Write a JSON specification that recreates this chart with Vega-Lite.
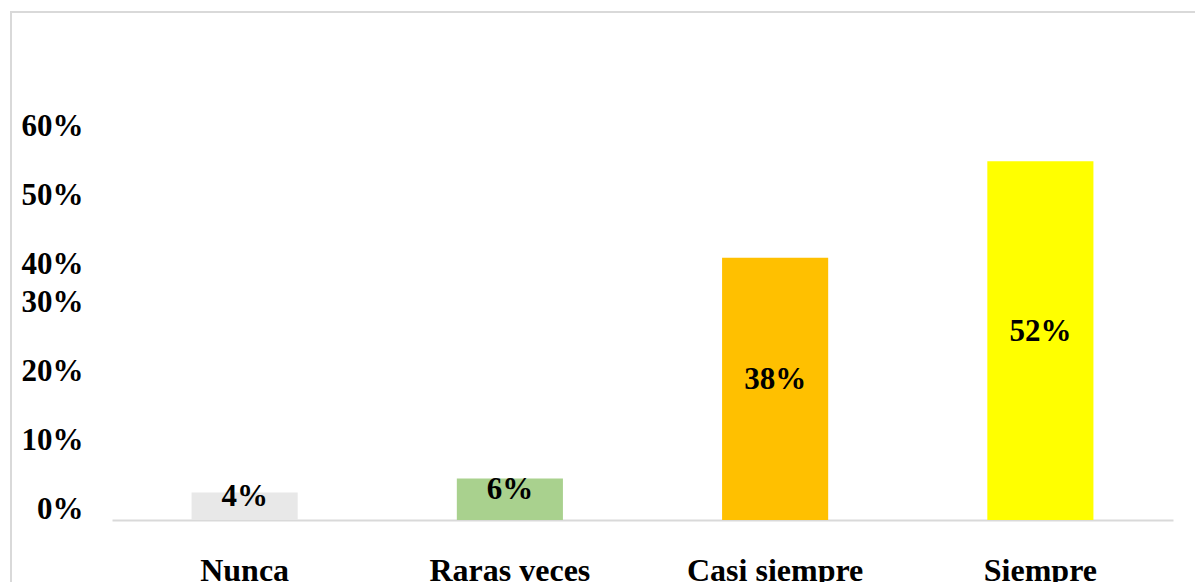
{
  "$schema": "https://vega.github.io/schema/vega-lite/v6.json",
  "width": 1186,
  "height": 572,
  "autosize": {"type": "none"},
  "padding": {"left": 11, "top": 12, "right": -2, "bottom": -2},
  "background": "white",
  "config": {
    "view": {"stroke": "#D9D9D9", "strokeWidth": 2},
    "font": "Liberation Serif"
  },
  "data": {
    "values": [
      {"respuesta": "Nunca", "pct": 0.04},
      {"respuesta": "Raras veces", "pct": 0.06},
      {"respuesta": "Casi siempre", "pct": 0.38},
      {"respuesta": "Siempre", "pct": 0.52}
    ]
  },
  "encoding": {
    "x": {
      "field": "respuesta",
      "type": "nominal",
      "sort": null,
      "scale": {"range": [101, 1162], "paddingInner": 0.6, "paddingOuter": 0.3},
      "axis": {
        "title": null,
        "orient": "bottom",
        "offset": -64,
        "ticks": false,
        "domainColor": "#D9D9D9",
        "domainWidth": 2,
        "labelAngle": 0,
        "labelFont": "Liberation Serif",
        "labelFontSize": 32,
        "labelFontWeight": "bold",
        "labelColor": "#000000",
        "labelBaseline": "alphabetic",
        "labelPadding": 60
      }
    }
  },
  "layer": [
    {
      "mark": {"type": "bar"},
      "encoding": {
        "y": {
          "field": "pct",
          "type": "quantitative",
          "scale": {"domain": [0, 0.6], "range": [508, 94], "nice": false},
          "axis": {
            "title": null,
            "values": [0, 0.1, 0.2, 0.3, 0.4, 0.5, 0.6],
            "format": ".0%",
            "grid": false,
            "domain": false,
            "ticks": false,
            "offset": -80,
            "labelPadding": 8,
            "labelFont": "Liberation Serif",
            "labelFontSize": 31,
            "labelFontWeight": "bold",
            "labelColor": "#000000",
            "labelOffset": {"condition": {"test": "datum.value >= 0.4", "value": 20}, "value": -11}
          }
        },
        "color": {
          "field": "respuesta",
          "type": "nominal",
          "scale": {
            "domain": ["Nunca", "Raras veces", "Casi siempre", "Siempre"],
            "range": ["#E8E8E8", "#A9D18E", "#FFC000", "#FFFF00"]
          },
          "legend": null
        }
      }
    },
    {
      "mark": {
        "type": "text",
        "font": "Liberation Serif",
        "fontSize": 31,
        "fontWeight": "bold",
        "color": "#000000",
        "baseline": "middle",
        "dy": -9
      },
      "encoding": {
        "y": {
          "field": "pct",
          "type": "quantitative",
          "scale": {"domain": [0, 1.2], "range": [508, 94], "nice": false},
          "axis": null
        },
        "text": {"field": "pct", "type": "quantitative", "format": ".0%"}
      }
    }
  ],
  "resolve": {"scale": {"y": "independent"}}
}
